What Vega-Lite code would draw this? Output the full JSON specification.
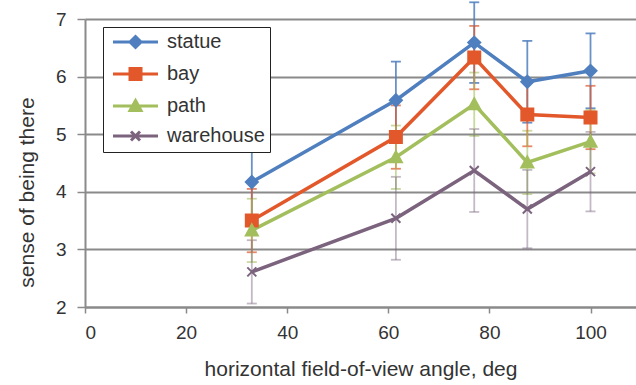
{
  "$schema": "https://vega.github.io/schema/vega-lite/v6.json",
  "width": 551,
  "height": 288,
  "autosize": {"type": "none"},
  "padding": {"left": 85, "top": 19, "right": 0, "bottom": 78},
  "background": "white",
  "config": {
    "view": {"stroke": null},
    "font": "Liberation Sans",
    "axis": {
      "labelFont": "Liberation Sans",
      "titleFont": "Liberation Sans",
      "labelFontSize": 19,
      "titleFontSize": 21,
      "labelColor": "#333333",
      "titleColor": "#333333",
      "titleFontWeight": "normal",
      "domainColor": "#8a8a8a",
      "domainWidth": 2,
      "tickColor": "#8a8a8a",
      "tickWidth": 1.5,
      "gridColor": "#8a8a8a",
      "gridWidth": 2,
      "gridOpacity": 1
    },
    "legend": {
      "labelFont": "Liberation Sans",
      "labelFontSize": 20,
      "labelColor": "#333333",
      "symbolStrokeWidth": 3,
      "symbolOpacity": 1
    }
  },
  "data": {
    "values": [
      {"series": "statue", "fov": 33, "mean": 4.17, "lo": 3.49, "hi": 4.85},
      {"series": "statue", "fov": 61.5, "mean": 5.59, "lo": 4.92, "hi": 6.26},
      {"series": "statue", "fov": 77, "mean": 6.59, "lo": 5.89, "hi": 7.29},
      {"series": "statue", "fov": 87.5, "mean": 5.91, "lo": 5.2, "hi": 6.62},
      {"series": "statue", "fov": 100, "mean": 6.1, "lo": 5.45, "hi": 6.75},
      {"series": "bay", "fov": 33, "mean": 3.5, "lo": 2.95, "hi": 4.05},
      {"series": "bay", "fov": 61.5, "mean": 4.95, "lo": 4.4, "hi": 5.5},
      {"series": "bay", "fov": 77, "mean": 6.33, "lo": 5.78, "hi": 6.88},
      {"series": "bay", "fov": 87.5, "mean": 5.34, "lo": 4.79, "hi": 5.89},
      {"series": "bay", "fov": 100, "mean": 5.29, "lo": 4.74, "hi": 5.84},
      {"series": "path", "fov": 33, "mean": 3.33, "lo": 2.78, "hi": 3.88},
      {"series": "path", "fov": 61.5, "mean": 4.6, "lo": 4.05, "hi": 5.15},
      {"series": "path", "fov": 77, "mean": 5.52, "lo": 4.97, "hi": 6.07},
      {"series": "path", "fov": 87.5, "mean": 4.51, "lo": 3.96, "hi": 5.06},
      {"series": "path", "fov": 100, "mean": 4.87, "lo": 4.32, "hi": 5.42},
      {"series": "warehouse", "fov": 33, "mean": 2.61, "lo": 2.06, "hi": 3.16},
      {"series": "warehouse", "fov": 61.5, "mean": 3.54, "lo": 2.82, "hi": 4.26},
      {"series": "warehouse", "fov": 77, "mean": 4.37, "lo": 3.65, "hi": 5.09},
      {"series": "warehouse", "fov": 87.5, "mean": 3.7, "lo": 3.02, "hi": 4.38},
      {"series": "warehouse", "fov": 100, "mean": 4.35, "lo": 3.66, "hi": 5.04}
    ]
  },
  "encoding": {
    "x": {
      "field": "fov",
      "type": "quantitative",
      "title": "horizontal field-of-view angle, deg",
      "scale": {"domain": [0, 109], "nice": false, "zero": false},
      "axis": {
        "values": [0, 20, 40, 60, 80, 100],
        "grid": false,
        "tickSize": 6,
        "labelPadding": 10,
        "titlePadding": 16
      }
    }
  },
  "layer": [
    {
      "mark": {"type": "errorbar", "ticks": true, "thickness": 1.8, "size": 10},
      "encoding": {
        "y": {
          "field": "lo",
          "type": "quantitative",
          "title": "sense of  being there",
          "scale": {"domain": [2, 7], "nice": false, "zero": false},
          "axis": {
            "values": [2, 3, 4, 5, 6, 7],
            "format": "d",
            "tickSize": 8,
            "labelPadding": 11,
            "titlePadding": 18,
            "titleY": 173
          }
        },
        "y2": {"field": "hi"},
        "color": {
          "field": "series",
          "type": "nominal",
          "scale": {
            "domain": ["statue", "bay", "path", "warehouse"],
            "range": ["#4f7fbf", "#e2582b", "#a3bf5d", "#7b637e"]
          },
          "legend": null
        },
        "opacity": {
          "field": "series",
          "type": "nominal",
          "scale": {
            "domain": ["statue", "bay", "path", "warehouse"],
            "range": [0.85, 0.45, 0.45, 0.9]
          },
          "legend": null
        }
      }
    },
    {
      "mark": {"type": "line", "strokeWidth": 3.5},
      "encoding": {
        "y": {"field": "mean", "type": "quantitative", "title": "sense of  being there"},
        "color": {"field": "series", "type": "nominal", "legend": null}
      }
    },
    {
      "mark": {"type": "point", "filled": true, "size": 100, "strokeWidth": 2, "opacity": 1},
      "encoding": {
        "y": {"field": "mean", "type": "quantitative", "title": "sense of  being there"},
        "color": {"field": "series", "type": "nominal", "legend": null},
        "stroke": {
          "field": "series",
          "type": "nominal",
          "scale": {
            "domain": ["statue", "bay", "path", "warehouse"],
            "range": ["#4f7fbf", "#e2582b", "#a3bf5d", "#7b637e"]
          },
          "legend": null
        },
        "shape": {
          "field": "series",
          "type": "nominal",
          "scale": {
            "domain": ["statue", "bay", "path", "warehouse"],
            "range": [
              "M0,-1.2L1.2,0L0,1.2L-1.2,0Z",
              "M-1.2,-1.2H1.2V1.2H-1.2Z",
              "M0,-1.2L1.2,1H-1.2Z",
              "M-0.9,-0.9L0.9,0.9M-0.9,0.9L0.9,-0.9"
            ]
          },
          "legend": null
        }
      }
    },
    {
      "transform": [{"filter": "false"}],
      "mark": {"type": "point", "filled": true, "size": 100, "strokeWidth": 3, "opacity": 1},
      "encoding": {
        "y": {"field": "mean", "type": "quantitative", "title": "sense of  being there"},
        "color": {
          "field": "series",
          "type": "nominal",
          "legend": {
            "title": null,
            "orient": "none",
            "legendX": 18,
            "legendY": 8,
            "strokeColor": "#222222",
            "fillColor": "white",
            "padding": 5,
            "symbolSize": 100,
            "labelOffset": 39,
            "rowPadding": 8
          }
        },
        "stroke": {
          "field": "series",
          "type": "nominal",
          "legend": {
            "title": null,
            "orient": "none",
            "legendX": 18,
            "legendY": 8,
            "strokeColor": "#222222",
            "fillColor": "white",
            "padding": 5,
            "symbolSize": 100,
            "labelOffset": 39,
            "rowPadding": 8
          }
        },
        "shape": {
          "field": "series",
          "type": "nominal",
          "scale": {
            "domain": ["statue", "bay", "path", "warehouse"],
            "range": [
              "M-1,0H8M3.5,-1.1L4.6,0L3.5,1.1L2.4,0Z",
              "M-1,0H8M2.4,-1.1H4.6V1.1H2.4Z",
              "M-1,0H8M3.5,-1.1L4.6,0.9H2.4Z",
              "M-1,0H8M2.6,-0.9L4.4,0.9M2.6,0.9L4.4,-0.9"
            ]
          },
          "legend": {
            "title": null,
            "orient": "none",
            "legendX": 18,
            "legendY": 8,
            "strokeColor": "#222222",
            "fillColor": "white",
            "padding": 5,
            "symbolSize": 100,
            "labelOffset": 39,
            "rowPadding": 8
          }
        }
      }
    }
  ],
  "resolve": {
    "scale": {"shape": "independent"},
    "legend": {"shape": "independent", "color": "independent", "stroke": "independent"}
  }
}
